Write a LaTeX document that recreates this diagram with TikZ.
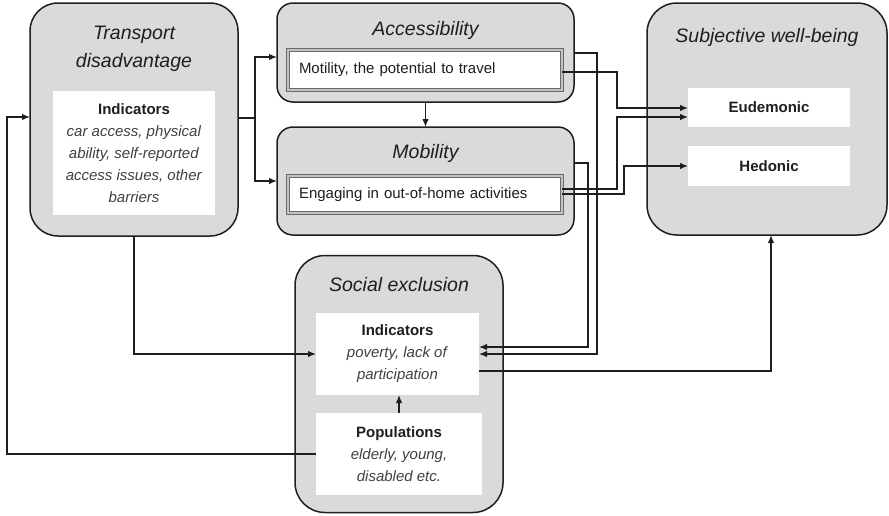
\documentclass[tikz,border=0pt]{standalone}
\usepackage{fontspec}
\setmainfont{Liberation Sans}
\usetikzlibrary{arrows.meta}

\definecolor{boxgray}{RGB}{218,218,218}
\definecolor{ink}{RGB}{30,30,30}
\definecolor{softink}{RGB}{64,64,64}
\definecolor{framegray}{RGB}{105,105,105}
\definecolor{framelight}{RGB}{195,195,195}

\newcommand{\softit}[1]{\textcolor{softink}{\textit{#1}}}

\tikzset{
  panel/.style={draw=ink, line width=1.5pt, fill=boxgray, inner sep=0pt, outer sep=0pt},
  card/.style={fill=white, inner sep=0pt, outer sep=0pt, align=center, text=ink,
               font=\fontsize{15}{22}\selectfont},
  framed/.style={draw=framegray, double=framelight, double distance=1.6pt,
                 line width=0.9pt, fill=white, inner sep=0pt, outer sep=0pt,
                 text=ink, font=\fontsize{15}{22}\selectfont, align=left},
  heading/.style={font=\fontsize{19.5}{28}\selectfont\itshape, text=ink,
                  align=center, inner sep=0pt},
  link/.style={draw=ink, line width=1.3pt},
  arr/.style={link, -{Latex[length=8pt,width=6.5pt]}},
}

\begin{document}
\begin{tikzpicture}[x=1pt,y=-1pt]
\useasboundingbox (0,0) rectangle (889,515);

% ---------- Transport disadvantage ----------
\node[panel, rounded corners=28pt, minimum width=208pt, minimum height=233pt] (td) at (134,119.5) {};
\node[heading] (tdT) at (134,49) {Transport\\disadvantage};
\node[card, minimum width=162pt, minimum height=124pt] (tdI) at (134,153)
  {\textbf{Indicators}\\\softit{car access, physical}\\\softit{ability, self-reported}\\\softit{access issues, other}\\\softit{barriers}};

% ---------- Accessibility ----------
\node[panel, rounded corners=16pt, minimum width=297pt, minimum height=99pt] (acc) at (425.5,52.5) {};
\node[heading] (accT) at (425.5,30) {Accessibility};
\node[framed, minimum width=274pt, minimum height=40pt, text width=252pt] (accI) at (425,70)
  {Motility, the potential to travel};

% ---------- Mobility ----------
\node[panel, rounded corners=16pt, minimum width=297pt, minimum height=108pt] (mob) at (425.5,181) {};
\node[heading] (mobT) at (425.5,153) {Mobility};
\node[framed, minimum width=274pt, minimum height=37pt, text width=252pt] (mobI) at (425,194.5)
  {Engaging in out-of-home activities};

% ---------- Subjective well-being ----------
\node[panel, rounded corners=30pt, minimum width=240pt, minimum height=232pt] (swb) at (767,119) {};
\node[heading] (swbT) at (767,37) {Subjective well-being};
\node[card, minimum width=162pt, minimum height=39pt] (eud) at (769,107.5) {\textbf{Eudemonic}};
\node[card, minimum width=162pt, minimum height=40pt] (hed) at (769,166) {\textbf{Hedonic}};

% ---------- Social exclusion ----------
\node[panel, rounded corners=30pt, minimum width=208pt, minimum height=257pt] (se) at (399,384) {};
\node[heading] (seT) at (399,285) {Social exclusion};
\node[card, minimum width=163pt, minimum height=82pt] (seI) at (397.5,354)
  {\textbf{Indicators}\\\softit{poverty, lack of}\\\softit{participation}};
\node[card, minimum width=166pt, minimum height=82pt] (pop) at (399,454)
  {\textbf{Populations}\\\softit{elderly, young,}\\\softit{disabled etc.}};

% ---------- routing points ----------
\coordinate (split) at (255,118);
\coordinate (leftrail) at (7,0);

% transport disadvantage -> accessibility / mobility
\draw[link] (td.east |- split) -- (split);
\draw[arr] (split) |- ([yshift=-4.5pt]acc.west);
\draw[arr] (split) |- (mob.west);

% accessibility -> mobility
\draw[arr] (acc.south) -- (mob.north);

% accessibility / mobility -> social exclusion indicators
\draw[arr] (acc.east |- 0,53) -| (597,354) -- (seI.east |- 0,354);
\draw[arr] (mob.east |- 0,163) -| (588,347) -- (seI.east |- 0,347);

% motility / out-of-home activities -> eudemonic and hedonic
\draw[arr] (accI.east |- 0,72) -| (617,108) -- (eud.west |- 0,108);
\draw[arr] (mobI.east |- 0,189) -| (617,117) -- (eud.west |- 0,117);
\draw[arr] (mobI.east |- 0,194) -| (624,166) -- (hed.west);

% social exclusion indicators -> subjective well-being
\draw[arr] (seI.east |- 0,371) -| (swb.south -| 771,0);

% populations -> indicators
\draw[arr] (pop.north) -- (pop.north |- seI.south);

% transport disadvantage -> social exclusion indicators
\draw[arr] (td.south) |- (seI.west);

% populations -> transport disadvantage
\draw[arr] (pop.west) -- (pop.west -| leftrail) |- ([yshift=2.5pt]td.west);

\end{tikzpicture}
\end{document}
